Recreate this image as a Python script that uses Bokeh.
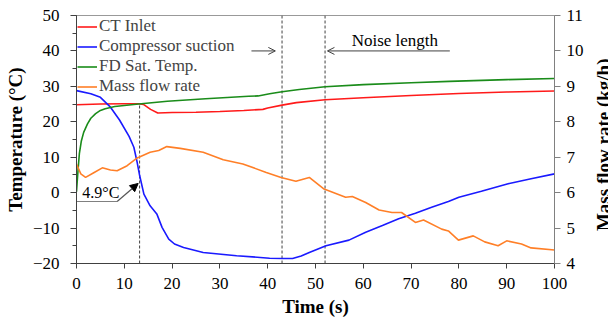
import math
from bokeh.plotting import figure
from bokeh.layouts import row
from bokeh.models import (Range1d, LinearAxis, SingleIntervalTicker, Legend, LegendItem,
                          Arrow, OpenHead, NormalHead)
from bokeh.core.properties import value
from bokeh.embed import file_html
from bokeh.resources import INLINE

# ---------------- data ----------------
t_ct = [0, 5, 10, 13, 14, 15.5, 17, 20, 25, 30, 35, 39, 40, 43, 46, 52, 60, 70, 80, 90, 100]
ct_inlet = [24.8, 25.0, 25.1, 25.1, 24.9, 23.5, 22.5, 22.6, 22.7, 22.9, 23.2, 23.5, 23.9, 24.7,
            25.4, 26.2, 26.8, 27.4, 28.0, 28.4, 28.7]

t_cs = [0, 3, 5, 7, 9, 11, 12, 12.7, 13.2, 14.1, 15.4, 16.8, 17.9, 19.3, 20.5, 22.4, 26.5, 33.5,
        40.4, 43.2, 45.2, 47, 48.7, 52.2, 57, 60.5, 64, 67.4, 70.9, 74.3, 77.8, 80, 84.7, 90.3,
        95.1, 100]
comp_suction = [28.8, 27.9, 26.9, 24.3, 20.5, 15.9, 12.8, 8.5, 4.9, -0.4, -3.7, -6.0, -9.8, -13.1,
                -14.5, -15.5, -16.9, -17.8, -18.5, -18.6, -18.6, -17.9, -16.9, -15.0, -13.4, -11.2,
                -9.3, -7.4, -5.8, -4.1, -2.5, -1.3, 0.4, 2.5, 3.9, 5.3]

t_fd = [0, 0.3, 0.6, 1, 1.5, 2.3, 3, 4, 5, 6, 8, 10, 13, 19, 27, 36, 38, 40.4, 43, 46.6, 52, 60,
        70, 78, 90, 100]
fd_sat = [0.3, 6, 11, 14.5, 17, 19.4, 21, 22.3, 23.2, 23.7, 24.3, 24.6, 25.0, 25.8, 26.5, 27.2,
          27.3, 27.9, 28.5, 29.1, 29.9, 30.5, 31.0, 31.4, 31.9, 32.2]

t_mf = [0, 0.9, 1.9, 3.7, 5.4, 7.1, 8.5, 10.6, 12.7, 15.4, 17.2, 18.9, 21.7, 26.5, 30.7, 34.8, 39.7,
        42.8, 45.9, 48.7, 51.8, 56.3, 57.7, 60.5, 63.3, 66, 68, 70.9, 72.6, 76.4, 77.8, 79.9, 83,
        85.4, 88.2, 90, 93.1, 95.1, 100]
mass_flow = [6.81, 6.53, 6.43, 6.57, 6.70, 6.64, 6.62, 6.76, 6.98, 7.14, 7.19, 7.30, 7.25, 7.14,
             6.93, 6.81, 6.57, 6.43, 6.32, 6.43, 6.10, 5.87, 5.89, 5.72, 5.51, 5.44, 5.44, 5.16,
             5.23, 4.97, 4.92, 4.66, 4.78, 4.61, 4.50, 4.64, 4.55, 4.44, 4.38]

# guide lines (time, bottom, top)
guide_t = [13.2, 43, 52]
guide_y0 = [-20, -20, -20]
guide_y1 = [25, 50, 50]

# annotations
callout_label = "4.9°C"
callout_xs = [0, 8.5]
callout_ys = [-2.5, -2.5]
callout_tip = (12.9, 2.6)
noise_label = "Noise length"
noise_text_pos = (66.6, 43.0)
arrow_right = (36.6, 41.6, 40)
arrow_left = (78.1, 52.5, 40)
right_title = "Mass flow rate (kg/h)"
right_title_center = 7.35   # along the kg/h scale

FONT = "Liberation Serif"
C_RED, C_BLUE, C_GREEN, C_ORANGE = "#ff1a1a", "#1a1aff", "#1a8c1a", "#ff7f27"

p = figure(width=586, height=323, output_backend="svg", toolbar_location=None,
           x_range=Range1d(0, 100), y_range=Range1d(-20, 50),
           min_border_left=76, min_border_right=29, min_border_top=15, min_border_bottom=60)
p.extra_y_ranges = {"mf": Range1d(4, 11)}
p.grid.visible = False
p.outline_line_color = "#999999"
p.background_fill_color = "white"
p.border_fill_color = "white"

# axes
xa = p.xaxis[0]
xa.ticker = SingleIntervalTicker(interval=10, num_minor_ticks=0)
xa.axis_label = "Time (s)"
ya = p.yaxis[0]
ya.ticker = SingleIntervalTicker(interval=10, num_minor_ticks=2)
ya.axis_label = "Temperature (°C)"
ra = LinearAxis(y_range_name="mf", ticker=SingleIntervalTicker(interval=1, num_minor_ticks=0))
p.add_layout(ra, "right")

for ax in (xa, ya, ra):
    ax.major_label_text_font = FONT
    ax.major_label_text_font_size = "17px"
    ax.major_label_text_color = "black"
    ax.axis_label_text_font = FONT
    ax.axis_label_text_font_size = "19px"
    ax.axis_label_text_font_style = "bold"
    ax.axis_label_text_color = "black"
    ax.major_tick_in = 0
    ax.minor_tick_in = 0
    ax.major_tick_out = 6
    ax.minor_tick_out = 4
    ax.axis_line_color = "#404040"
    ax.major_tick_line_color = "#404040"
    ax.minor_tick_line_color = "#404040"
xa.major_tick_out = 5
xa.major_label_standoff = 9
xa.axis_label_standoff = 4
ya.major_label_standoff = 11
ya.axis_label_standoff = 4
ra.major_label_standoff = 6
ra.axis_line_color = "#808080"
ra.major_tick_line_color = "#808080"

# guide lines
p.segment(x0=guide_t, y0=guide_y0, x1=guide_t, y1=guide_y1, line_color="#404040",
          line_width=1, line_dash="3 2")

# series
r_ct = p.line(t_ct, ct_inlet, line_color=C_RED, line_width=1.6)
r_cs = p.line(t_cs, comp_suction, line_color=C_BLUE, line_width=1.6)
r_fd = p.line(t_fd, fd_sat, line_color=C_GREEN, line_width=1.6)
r_mf = p.line(t_mf, mass_flow, line_color=C_ORANGE, line_width=1.6, y_range_name="mf")

# callout 4.9 °C
p.line(callout_xs, callout_ys, line_color="#808080", line_width=1.2)
p.add_layout(Arrow(end=NormalHead(size=8, fill_color="black", line_color="black"),
                   x_start=callout_xs[-1], y_start=callout_ys[-1],
                   x_end=callout_tip[0], y_end=callout_tip[1],
                   line_color="#555555", line_width=1.2))
p.text(x=[1.2], y=[0.1], text=[callout_label], text_font=value(FONT), text_font_size="16px",
       text_baseline="middle", text_align="left", text_color="black")

# noise length arrows
p.add_layout(Arrow(end=OpenHead(size=7, line_color="#404040", line_width=1),
                   x_start=arrow_right[0], x_end=arrow_right[1],
                   y_start=arrow_right[2], y_end=arrow_right[2],
                   line_color="#404040", line_width=1))
p.add_layout(Arrow(end=OpenHead(size=7, line_color="#404040", line_width=1),
                   x_start=arrow_left[0], x_end=arrow_left[1],
                   y_start=arrow_left[2], y_end=arrow_left[2],
                   line_color="#404040", line_width=1))
p.text(x=[noise_text_pos[0]], y=[noise_text_pos[1]], text=[noise_label], text_font=value(FONT),
       text_font_size="17px", text_baseline="middle", text_align="center", text_color="black")

# legend
legend = Legend(items=[LegendItem(label="CT Inlet", renderers=[r_ct]),
                       LegendItem(label="Compressor suction", renderers=[r_cs]),
                       LegendItem(label="FD Sat. Temp.", renderers=[r_fd]),
                       LegendItem(label="Mass flow rate", renderers=[r_mf])],
                location="top_left", margin=1, padding=1, spacing=0,
                glyph_width=20, glyph_height=17, label_height=17, label_standoff=2,
                label_text_font=FONT, label_text_font_size="17px",
                border_line_color=None, background_fill_alpha=0)
p.add_layout(legend)

# narrow strip holding the right-hand axis title (reads bottom-to-top)
q = figure(width=22, height=323, output_backend="svg", toolbar_location=None,
           x_range=Range1d(0, 22), y_range=Range1d(4, 11), min_border=0,
           min_border_left=0, min_border_right=0, min_border_top=0, min_border_bottom=0)
q.axis.visible = False
q.grid.visible = False
q.outline_line_color = None
q.background_fill_color = "white"
q.border_fill_color = "white"
q.text(x=[17.4], y=[right_title_center], text=[right_title], angle=math.pi / 2,
       text_font=value(FONT), text_font_size="19px", text_font_style="bold",
       text_align="center", text_baseline="alphabetic", text_color="black")

layout = row(p, q, spacing=0)
open("out.html", "w").write(file_html(layout, INLINE))
